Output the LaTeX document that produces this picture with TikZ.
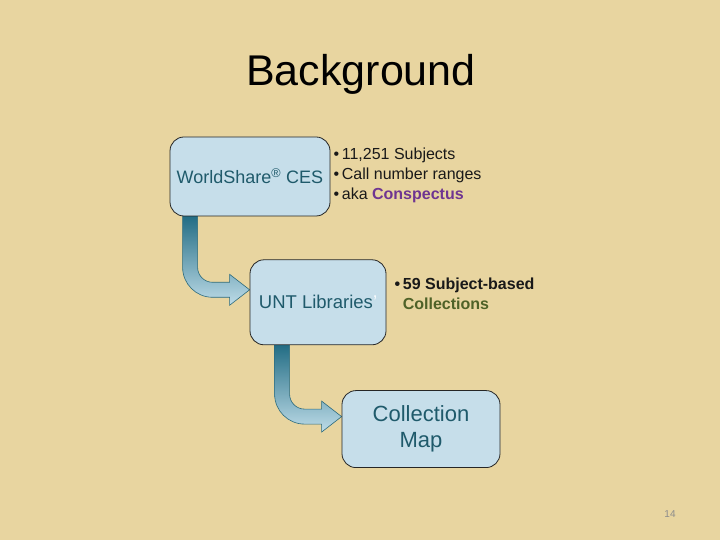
\documentclass[tikz,border=0pt]{standalone}
\usepackage{fontspec}
\setmainfont{Liberation Sans}
\usetikzlibrary{positioning,calc}
\definecolor{cpaper}{HTML}{E8D5A0}
\definecolor{cbox}{HTML}{C6DEEA}
\definecolor{cboxtext}{HTML}{1F5A6B}
\definecolor{carrtop}{HTML}{1C6880}
\definecolor{carrbot}{HTML}{BEDCE8}
\definecolor{carrline}{HTML}{2B6A7C}
\definecolor{cpurple}{HTML}{6F3591}
\definecolor{cgreen}{HTML}{4F6228}
\pgfdeclarelayer{bg}
\pgfsetlayers{bg,main}
\newcommand{\bentarrow}[2]{%
  \path[bent] let \p1=(#1.south), \p2=(#2.west) in
    (\x2-67pt,\y1+4pt) -- (\x2-67pt,\y2+35pt)
    arc[start angle=180, end angle=270, radius=30pt]
    -- (\x2-20pt,\y2+5pt) -- (\x2-20pt,\y2-3pt) -- (\x2,\y2+12.5pt)
    -- (\x2-20pt,\y2+28pt) -- (\x2-20pt,\y2+20pt) -- (\x2-37pt,\y2+20pt)
    arc[start angle=270, end angle=180, radius=15pt]
    -- (\x2-52pt,\y1+4pt) -- cycle;}

\begin{document}
\begin{tikzpicture}[x=1pt, y=1pt,
    box/.style={draw=black!85, fill=cbox, rounded corners=14pt, line width=0.8pt,
                text=cboxtext, align=center},
    note/.style={align=left, inner sep=0pt, text=black!90, font=\fontsize{16}{20}\selectfont},
    bent/.style={draw=carrline, line width=0.6pt, top color=carrtop, bottom color=carrbot}
]
\useasboundingbox (0,0) rectangle (720,540);
\node[font=\fontsize{43}{50}\selectfont, anchor=base] (title) at (361,454) {Background};
\node[box, minimum width=160pt, minimum height=79pt, font=\fontsize{18}{22}\selectfont] (ces) at (250,363.5) {WorldShare\textsuperscript{®} CES};
\node[box, minimum width=136pt, minimum height=85pt, font=\fontsize{18.5}{22}\selectfont, below=43pt of ces, xshift=68pt] (unt) {UNT Libraries{\color{white!85!cbox}'}};
\node[box, minimum width=158pt, minimum height=77pt, font=\fontsize{22}{26}\selectfont, below=45pt of unt, xshift=103pt] (cmap) {Collection\\Map};
\node[note, right=3pt of ces, yshift=1.5pt] (cesnote) {\textbullet\,11,251 Subjects\\\textbullet\,Call number ranges\\\textbullet\,aka \textcolor{cpurple}{\textbf{Conspectus}}};
\node[note, right=8pt of unt, yshift=9pt] (untnote) {\textbf{\textbullet\,59 Subject-based}\\\hphantom{\textbf{\textbullet\,}}\textcolor{cgreen}{\textbf{Collections}}};
\node[font=\fontsize{10}{12}\selectfont, text=black!45] (pnum) at (670,26) {14};
\begin{pgfonlayer}{bg}
\fill[cpaper] (0,0) rectangle (720,540);
\bentarrow{ces}{unt}
\bentarrow{unt}{cmap}
\end{pgfonlayer}
\end{tikzpicture}
\end{document}
